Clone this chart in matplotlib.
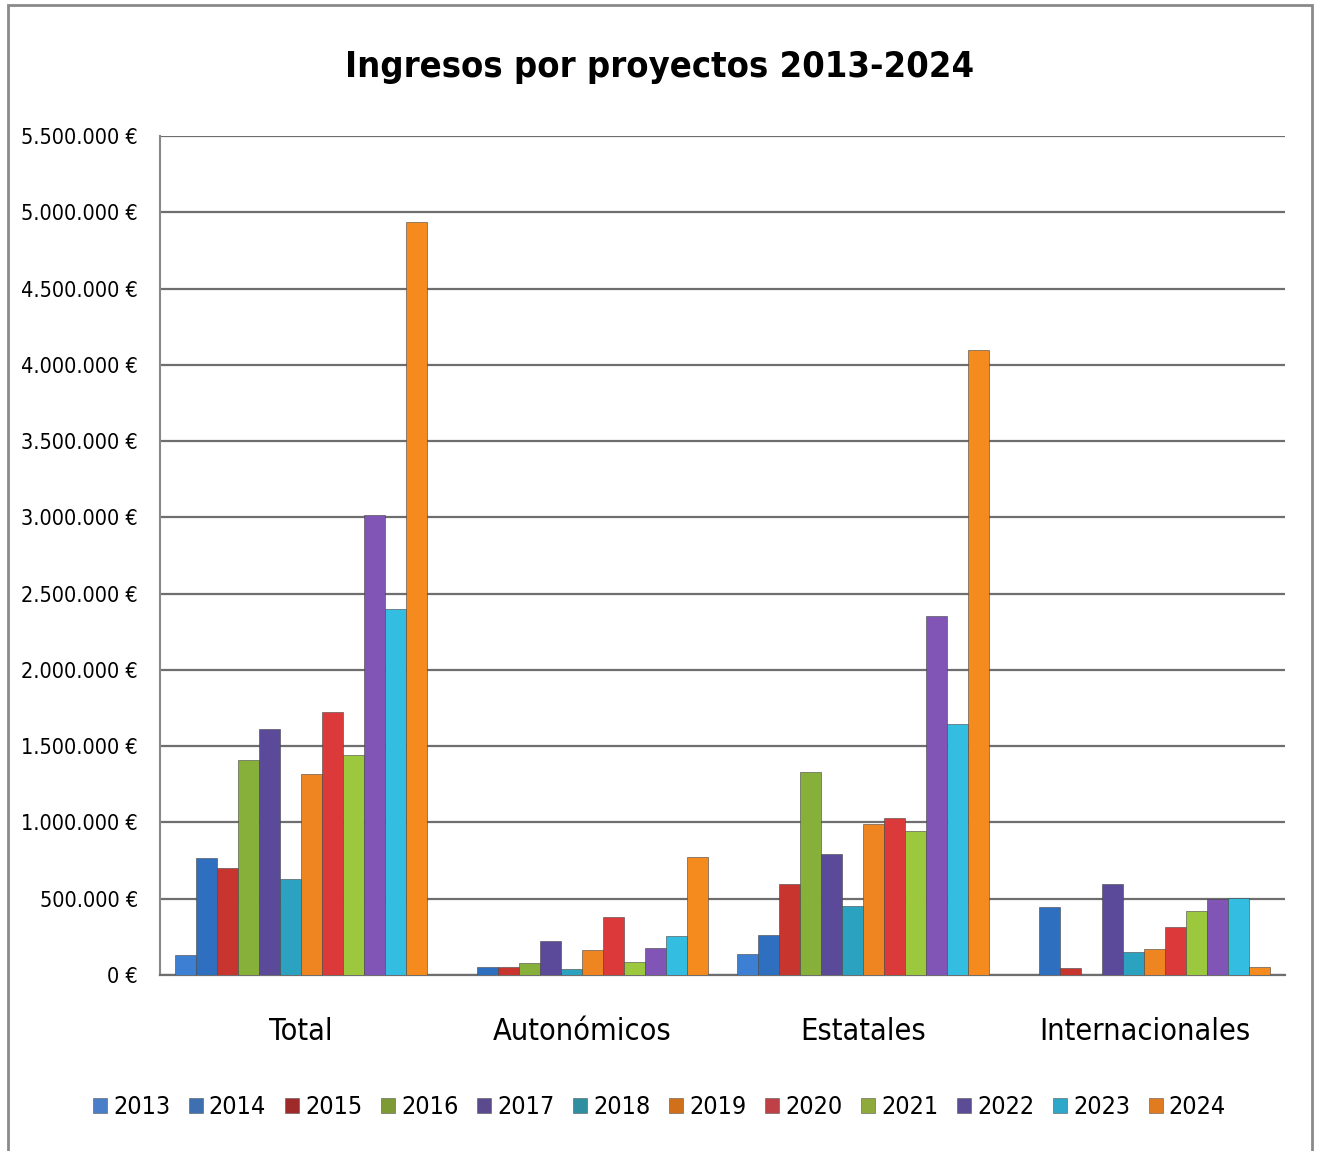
import matplotlib.pyplot as plt
from matplotlib.patches import Patch, Rectangle
from matplotlib.ticker import FuncFormatter
import numpy as np

plt.rcParams['font.family'] = ['DejaVu Sans']
plt.rcParams['font.stretch'] = 'condensed'

categories = ["Total", "Autonómicos", "Estatales", "Internacionales"]
years = ["2013", "2014", "2015", "2016", "2017", "2018",
         "2019", "2020", "2021", "2022", "2023", "2024"]

# values per year: [Total, Autonómicos, Estatales, Internacionales]
v2013 = [130000, 0, 136000, 0]
v2014 = [770000, 55000, 264000, 443000]
v2015 = [700000, 55000, 598000, 44000]
v2016 = [1410000, 76000, 1332000, 0]
v2017 = [1612000, 225000, 793000, 596000]
v2018 = [628000, 39000, 454000, 148000]
v2019 = [1315000, 164000, 992000, 168000]
v2020 = [1725000, 382000, 1027000, 317000]
v2021 = [1442000, 83000, 943000, 419000]
v2022 = [3017000, 175000, 2351000, 498000]
v2023 = [2397000, 253000, 1644000, 502000]
v2024 = [4937000, 775000, 4095000, 50000]
values = [v2013, v2014, v2015, v2016, v2017, v2018,
          v2019, v2020, v2021, v2022, v2023, v2024]

bar_colors = ["#3d7fd2", "#2f6fbf", "#c8352f", "#86b03a", "#5b4a9a", "#2aa2c0",
              "#ef8520", "#dc3a3a", "#9cc83e", "#8155b5", "#33bde0", "#f58a1f"]
legend_colors = ["#4a7ec8", "#3e6fb0", "#9e2a2a", "#7e9a35", "#5b4a8e", "#2e8fa0",
                 "#d0701a", "#c04048", "#8faa3a", "#5c4b95", "#2ea8c8", "#e07b20"]

fig = plt.figure(figsize=(13.19, 11.51), dpi=100)
ax = fig.add_axes([160 / 1319, 1 - 975 / 1151, 1125 / 1319, 839 / 1151])

x = np.arange(len(categories))
w = 0.0747
for i, yr in enumerate(years):
    ax.bar(x + (i - 5.5) * w, values[i], width=w, color=bar_colors[i],
           edgecolor="#444444", linewidth=0.4, zorder=3)

ax.set_xlim(-0.5, 3.5)
ax.set_ylim(0, 5500000)
ax.set_yticks(np.arange(0, 5500001, 500000))
ax.yaxis.set_major_formatter(FuncFormatter(
    lambda v, p: "{:,.0f} €".format(v).replace(",", ".")))
ax.grid(axis="y", color="#6e6e6e", linewidth=1.6, zorder=0)
ax.set_xticks(x)
ax.set_xticklabels(categories, fontsize=22)
ax.tick_params(axis="x", length=0, pad=30)
ax.tick_params(axis="y", labelsize=15.5, length=0, pad=16)
for s in ["top", "right"]:
    ax.spines[s].set_visible(False)
ax.spines["left"].set_color("#888888")
ax.spines["left"].set_linewidth(1.5)
ax.spines["bottom"].set_color("#6e6e6e")
ax.spines["bottom"].set_linewidth(1.6)

fig.text(0.5, 1 - 67 / 1151, "Ingresos por proyectos 2013-2024",
         ha="center", va="center", fontsize=26, fontweight="bold")

handles = [Patch(facecolor=c, edgecolor="#555555", linewidth=0.4) for c in legend_colors]
fig.legend(handles, years, loc="center", bbox_to_anchor=(0.5, 1 - 1107 / 1151),
           ncol=12, frameon=False, fontsize=18, handlelength=0.55, handleheight=0.55,
           handletextpad=0.25, columnspacing=0.75)

fig.patches.append(Rectangle((8 / 1319, -0.01), 1304 / 1319, 1 - 5 / 1151 + 0.01,
                             transform=fig.transFigure, fill=False,
                             edgecolor="#8a8a8a", linewidth=2))

fig.savefig("out.png", dpi=100)
